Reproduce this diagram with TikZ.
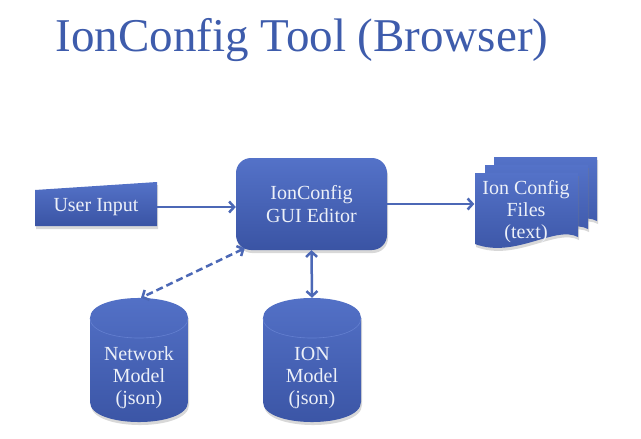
\documentclass[tikz,border=0pt]{standalone}
\usepackage{fontspec}
\setmainfont{Liberation Serif}
\usetikzlibrary{arrows.meta,shadows,calc}
\definecolor{ttl}{RGB}{62,92,172}
\definecolor{ftop}{RGB}{84,114,200}
\definecolor{fbot}{RGB}{58,84,164}
\definecolor{arr}{RGB}{76,104,182}
\definecolor{txt}{RGB}{236,240,248}
\definecolor{rim}{RGB}{100,128,208}
\begin{document}
\begin{tikzpicture}[x=1pt,y=-1pt,
  fillshade/.style={top color=ftop, bottom color=fbot, draw=none,
    drop shadow={shadow xshift=1pt, shadow yshift=-3pt, opacity=0.3}},
  box/.style={fillshade, text=txt, font=\fontsize{20}{22.5}\selectfont, align=center},
  label/.style={text=txt, font=\fontsize{20}{22}\selectfont, align=center, inner sep=0pt},
  conn/.style={draw=arr, line width=2.5pt, >={Straight Barb[length=5pt,width=11pt]}},
  rimline/.style={draw=rim, line width=0.6pt}
]
\useasboundingbox (0,0) rectangle (641,439);
\fill[white] (0,0) rectangle (641,439);

% title
\node[font=\fontsize{47}{56}\selectfont, text=ttl] (title) at (302,40) {IonConfig Tool (Browser)};

% User Input (manual input shape)
\path[fillshade] (35,190) -- (157,182) -- (157,226) -- (35,226) -- cycle;
\node[label, minimum width=122pt, minimum height=44pt] (user) at (96,207) {User Input};

% GUI editor
\node[box, rounded corners=15pt, minimum width=151pt, minimum height=92pt] (gui) at (311.5,204) {IonConfig\\GUI Editor};

% Files (multidocument)
\newcommand\docpath{(0,0) -- (103,0) -- (103,64) .. controls (80,52) and (40,86) .. (0,71) -- cycle}
\begin{scope}[shift={(494,157)}]
  \path[fillshade] \docpath;
\end{scope}
\begin{scope}[shift={(485,165)}]
  \path[fillshade] \docpath;
\end{scope}
\begin{scope}[shift={(475,173)}]
  \path[fillshade] \docpath;
\end{scope}
\node[label, minimum width=103pt, minimum height=72pt] (files) at (526,212) {Ion Config\\Files\\(text)};

% cylinders
\newcommand\cylpath{(-49,-42) -- (-49,42) .. controls (-49,68.7) and (49,68.7) .. (49,42) -- (49,-42) .. controls (49,-68.7) and (-49,-68.7) .. (-49,-42) -- cycle}
\newcommand\cylrim{(-49,-42) .. controls (-49,-15.3) and (49,-15.3) .. (49,-42)}
\begin{scope}[shift={(139,360)}]
  \path[fillshade] \cylpath;
  \draw[rimline] \cylrim;
\end{scope}
\node[label, minimum width=98pt, minimum height=124pt] (net) at (139,360) {};
\node[label] (nettext) at (139,378) {Network\\Model\\(json)};

\begin{scope}[shift={(312,360)}]
  \path[fillshade] \cylpath;
  \draw[rimline] \cylrim;
\end{scope}
\node[label, minimum width=98pt, minimum height=124pt] (ion) at (312,360) {};
\node[label] (iontext) at (312,378) {ION\\Model\\(json)};

% connectors
\draw[conn,->] (user.east) -- (user.east -| gui.west);
\draw[conn,->] (gui.east) -- (gui.east -| files.west);
\draw[conn,<->] (gui.south) -- (ion.north);
\draw[conn,<->,dash pattern=on 7pt off 4pt] ($(gui.south west)+(9,-2)$) -- ($(net.north)+(2,0)$);
\end{tikzpicture}
\end{document}
